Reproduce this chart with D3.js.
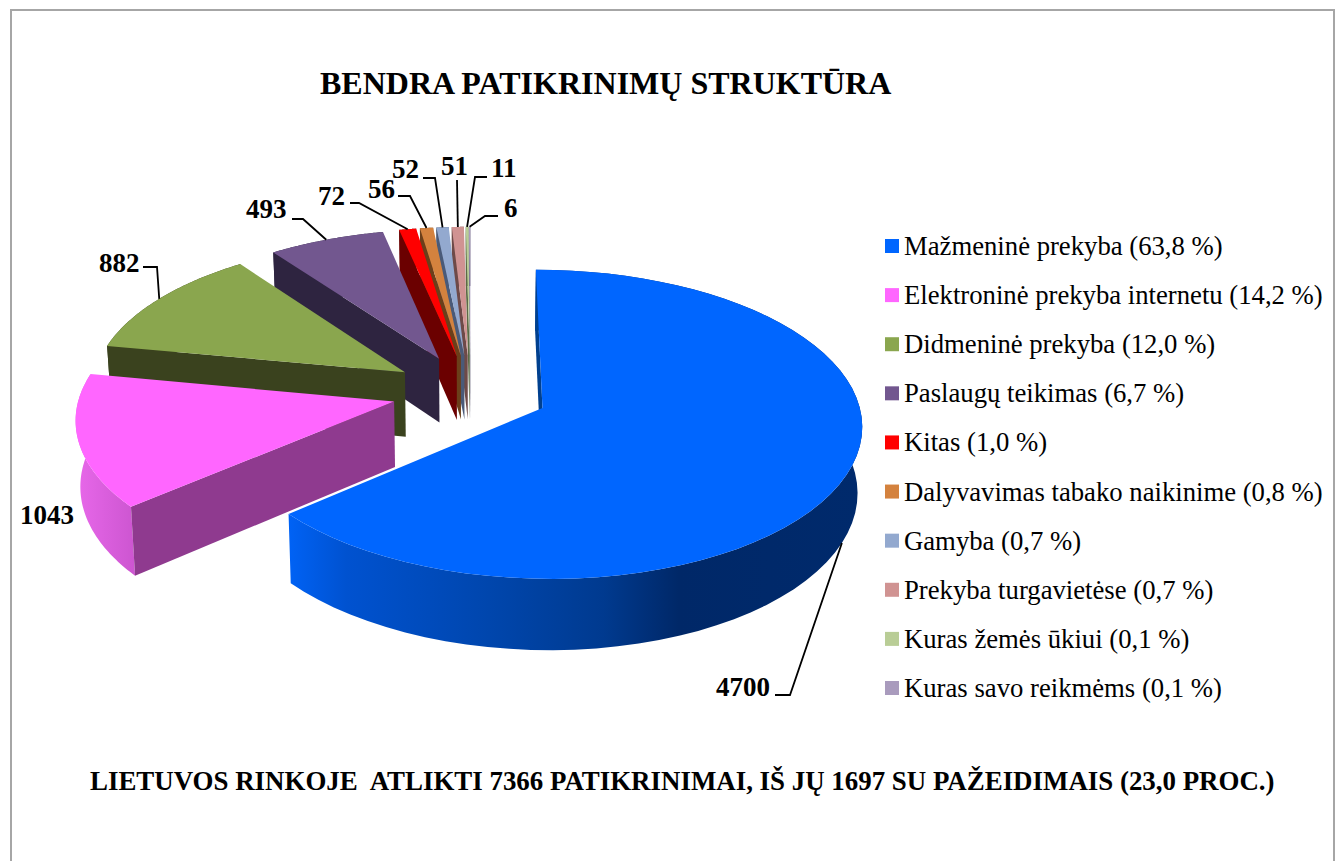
<!DOCTYPE html>
<html>
<head>
<meta charset="utf-8">
<script src="https://cdn.jsdelivr.net/npm/d3@7"></script>
<style>
html,body{margin:0;padding:0;background:#fff;overflow:hidden}
text{font-family:"Liberation Serif","Times New Roman",serif;fill:#000}
</style>
</head>
<body>
<svg id="c" width="1339" height="861"></svg>
<script>
const categories = ["Mažmeninė prekyba","Elektroninė prekyba internetu","Didmeninė prekyba","Paslaugų teikimas","Kitas","Dalyvavimas tabako naikinime","Gamyba","Prekyba turgavietėse","Kuras žemės ūkiui","Kuras savo reikmėms"];
const values = [4700,1043,882,493,72,56,52,51,11,6];
const percents = ["63,8","14,2","12,0","6,7","1,0","0,8","0,7","0,7","0,1","0,1"];
const topColors = ["#0066ff","#ff66ff","#8aa64e","#72578f","#ff0000","#d4823e","#93a9cf","#d09392","#b9cd96","#a99bbd"];
const wallColors = ["#00408f","#8f3a8f","#3a421e","#2e2440","#6b0000","#6b3f1a","#4a5a78","#6e4a48","#5b6a45","#55506a"];
const titleText = "BENDRA PATIKRINIMŲ STRUKTŪRA";
const footerText = "LIETUVOS RINKOJE  ATLIKTI 7366 PATIKRINIMAI, IŠ JŲ 1697 SU PAŽEIDIMAIS (23,0 PROC.)";
// label layout: text position and leader elbow(s), leader end comes from the slice geometry
const labelLayout = [
  {x:716,y:696,leader:[[775,695],[790,695]]},
  {x:20,y:524,leader:null},
  {x:99,y:272,leader:[[143,267],[157,267]]},
  {x:246,y:218,leader:[[292,219],[303,219]]},
  {x:318,y:205,leader:[[350,203],[359,203]]},
  {x:368,y:198,leader:[[398,196],[410,196]]},
  {x:392,y:178,leader:[[423,178],[435,178]]},
  {x:441,y:175,leader:[[457,180]]},
  {x:491,y:177,leader:[[487,177],[475,177]]},
  {x:504,y:217,leader:[[498,216],[485,216]]}
];

const svg = d3.select("#c");
const W = 1339, H = 861;
svg.append("rect").attr("x",11).attr("y",10).attr("width",1323).attr("height",H+20)
  .attr("fill","#fff").attr("stroke","#a6a6a6").attr("stroke-width",2);

// pie geometry
const cx = 470.5, cy = 392, Rx = 314, Ry = 149.5, ky = 0.105, kx = 0.1, explode = 0.25, depth = 65, conv = 0.012;
const pie = d3.pie().sort(null).value(d=>d).startAngle(0).endAngle(2*Math.PI);
const arcs = pie(values);

function project(px, py, h){
  const wy = 1 + ky*py, wx = 1 + kx*py;
  const sx = Rx*px/wx, sy = Ry*py/wy;
  const d = h ? depth/Math.pow(wy,0.75) : 0;
  const c = h ? 1-conv : 1;
  return [cx + sx*c, cy - sy + d];
}
function slicePoint(a, theta, r, h){
  const mid = (a.startAngle+a.endAngle)/2;
  return project(explode*Math.sin(mid) + r*Math.sin(theta), explode*Math.cos(mid) + r*Math.cos(theta), h);
}
const line = d3.line();
const defs = svg.append("defs");
const grad = (id,x1,x2,stops)=>{
  const g = defs.append("linearGradient").attr("id",id).attr("gradientUnits","userSpaceOnUse")
    .attr("x1",x1).attr("x2",x2).attr("y1",0).attr("y2",0);
  stops.forEach(s=>g.append("stop").attr("offset",s[0]).attr("stop-color",s[1]));
};
grad("wall0",289,862,[[0,"#0062f5"],[0.1,"#0052d0"],[0.35,"#0046ad"],[0.55,"#003a8f"],[0.68,"#002868"],[1,"#002a6c"]]);
grad("wall1",75,136,[[0,"#e868ea"],[1,"#cc55d0"]]);

const plot = svg.append("g");
// paint from the farthest slice to the nearest one
d3.range(arcs.length-1,-1,-1).forEach(i=>{
  const a = arcs[i];
  const g = plot.append("g").attr("class","slice");
  const thetas = d3.range(0,65).map(j=>a.startAngle + (a.endAngle-a.startAngle)*j/64);
  const top = thetas.map(t=>slicePoint(a,t,1,false));
  const bot = thetas.map(t=>slicePoint(a,t,1,true));
  const apex = slicePoint(a,0,0,false), apexB = slicePoint(a,0,0,true);
  // outer wall
  g.append("path").attr("d",line(top.concat(bot.slice().reverse()))+"Z")
    .attr("fill", i===0?"url(#wall0)": i===1?"url(#wall1)":wallColors[i]);
  // start-edge wall
  g.append("path").attr("d",line([apex,top[0],bot[0],apexB])+"Z").attr("fill",wallColors[i]);
  // top face
  g.append("path").attr("d",line([apex].concat(top))+"Z").attr("fill",topColors[i]);
});

// leaders and labels
const labels = svg.append("g");
arcs.forEach((a,i)=>{
  const L = labelLayout[i];
  labels.append("text").attr("x",L.x).attr("y",L.y).attr("font-size",27).attr("font-weight","bold").text(values[i]);
  if(L.leader){
    const mid = (a.startAngle+a.endAngle)/2;
    const end = slicePoint(a,mid,1,i===0);
    labels.append("path").attr("d",line(L.leader.concat([end]))).attr("fill","none").attr("stroke","#000").attr("stroke-width",1.8);
  }
});

// legend
const yL = d3.scalePoint().domain(d3.range(categories.length)).range([246,688]);
const color = d3.scaleOrdinal().domain(d3.range(categories.length)).range(topColors);
const leg = svg.append("g");
categories.forEach((c,i)=>{
  leg.append("rect").attr("x",885).attr("y",yL(i)-7).attr("width",14).attr("height",14).attr("fill",color(i));
  leg.append("text").attr("x",904).attr("y",yL(i)+9).attr("font-size",26.7).text(`${c} (${percents[i]} %)`);
});

svg.append("text").attr("x",320).attr("y",94).attr("font-size",32).attr("font-weight","bold").text(titleText);
svg.append("text").attr("x",90).attr("y",790).attr("font-size",26.9).attr("font-weight","bold").style("white-space","pre").text(footerText);
</script>
</body>
</html>
